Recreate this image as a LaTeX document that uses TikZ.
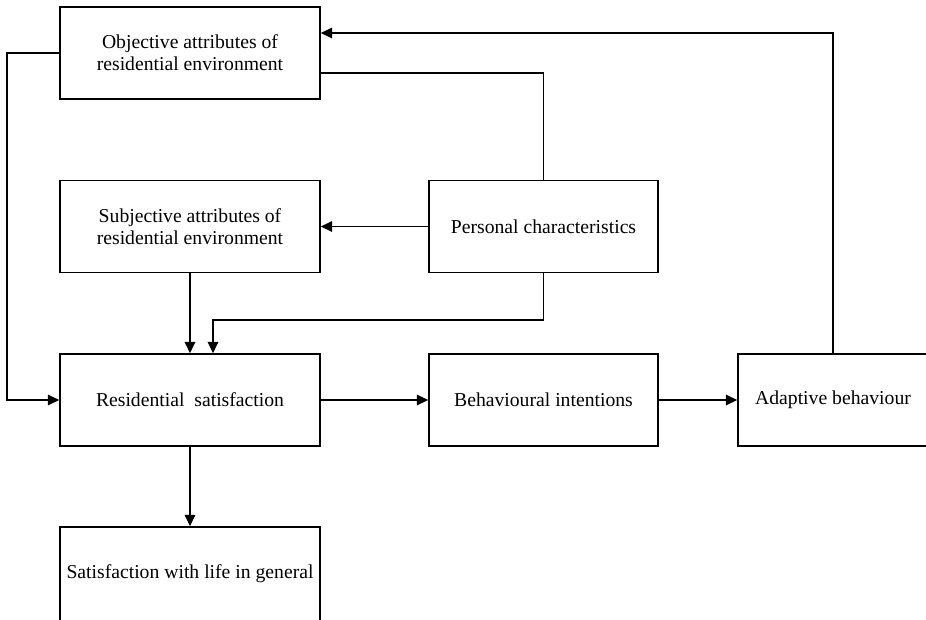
\documentclass[tikz,border=0pt]{standalone}
\usepackage{fontspec}
\setmainfont{Liberation Serif}
\usepackage{tikz}
\usetikzlibrary{arrows.meta}

\begin{document}
\begin{tikzpicture}[x=0.02cm, y=-0.02cm,
    box/.style={draw, line width=0.9pt, minimum width=5.2cm, minimum height=1.84cm,
      align=center, inner sep=2pt, font=\fontsize{11.2}{12.5}\selectfont},
    arr/.style={line width=0.9pt, -{Triangle[length=6.5pt, width=6pt]}},
    link/.style={line width=0.9pt}]
  % Page size of the reference
  \useasboundingbox (0,0) rectangle (926,619);
  \clip (0,0) rectangle (926,619);

  % Boxes
  \node[box] (obj) at (190,53) {Objective attributes of\\residential environment};
  \node[box] (subj) at (190,226.5) {Subjective attributes of\\residential environment};
  \node[box, minimum width=4.58cm] (pers) at (543.5,226.5) {Personal characteristics};
  \node[box] (res) at (190,400) {Residential~~satisfaction};
  \node[box, minimum width=4.58cm] (beh) at (543.5,400) {Behavioural intentions};
  \node[box, minimum width=3.8cm] (adapt) at (833,400) {Adaptive behaviour};
  \node[box, minimum height=1.88cm] (life) at (190,574) {Satisfaction with life in general};

  % Feedback and links from the top box
  \draw[arr] (adapt.north) |- (obj.east |- 0,33);
  \draw[link] (obj.east |- 0,73) -| (pers.north);
  \draw[arr] (obj.west) -- ++(-52,0) |- (res.west);

  % Personal characteristics
  \draw[arr] (pers.west) -- (subj.east);
  \draw[arr] (pers.south) -- (pers.south |- 0,320) -| (res.north -| 213,0);

  % Main chain
  \draw[arr] (subj.south) -- (res.north);
  \draw[arr] (res.east) -- (beh.west);
  \draw[arr] (beh.east) -- (adapt.west);
  \draw[arr] (res.south) -- (life.north);
\end{tikzpicture}
\end{document}
